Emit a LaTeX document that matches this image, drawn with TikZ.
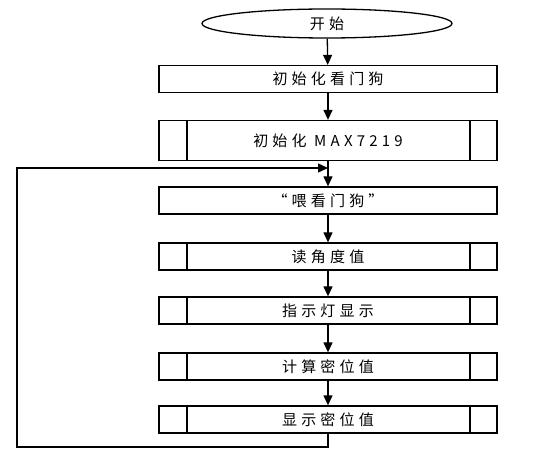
\documentclass[tikz,border=0pt]{standalone}
\usepackage{fontspec}
\newfontfamily\cjk[LetterSpace=28]{Noto Sans CJK SC}
\usetikzlibrary{arrows.meta,shapes.geometric}
\begin{document}
\begin{tikzpicture}[x=1pt,y=-1pt,line width=1.3pt,
  box/.style={draw,rectangle,minimum width=338pt,minimum height=27pt,inner sep=0pt,
    font=\cjk\fontsize{15}{15}\selectfont},
  proc/.style={box,path picture={
      \draw[line width=1.3pt] ([xshift=28pt]path picture bounding box.north west) -- ([xshift=28pt]path picture bounding box.south west);
      \draw[line width=1.3pt] ([xshift=-27pt]path picture bounding box.north east) -- ([xshift=-27pt]path picture bounding box.south east);}},
  term/.style={draw,ellipse,minimum width=250pt,minimum height=29pt,inner sep=0pt,
    font=\cjk\fontsize{15}{15}\selectfont},
  arr/.style={-{Triangle[length=10pt,width=9pt]}}]
\useasboundingbox (0,0) rectangle (536,457);
\node[term] (start) at (327,23.5) {开始};
\node[box] (b1) at (328,79) {初始化看门狗};
\node[proc,minimum height=40pt] (b2) at (328,140.5) {初始化 MAX7219};
\node[box] (b3) at (328,200.5) {“喂看门狗”};
\node[proc] (b4) at (328,256.5) {读角度值};
\node[proc] (b5) at (328,310.5) {指示灯显示};
\node[proc] (b6) at (328,366.5) {计算密位值};
\node[proc] (b7) at (328,419.5) {显示密位值};
\coordinate (m) at (328,168);
\coordinate (lb) at (17,447);
\coordinate (lt) at (17,168);
\draw[arr] (start) -- (b1);
\draw[arr] (b1) -- (b2);
\draw[arr] (b2) -- (b3);
\draw[arr] (b3) -- (b4);
\draw[arr] (b4) -- (b5);
\draw[arr] (b5) -- (b6);
\draw[arr] (b6) -- (b7);
\draw[arr] (b7.south) |- (lb) -- (lt) -- (m);
\end{tikzpicture}
\end{document}
